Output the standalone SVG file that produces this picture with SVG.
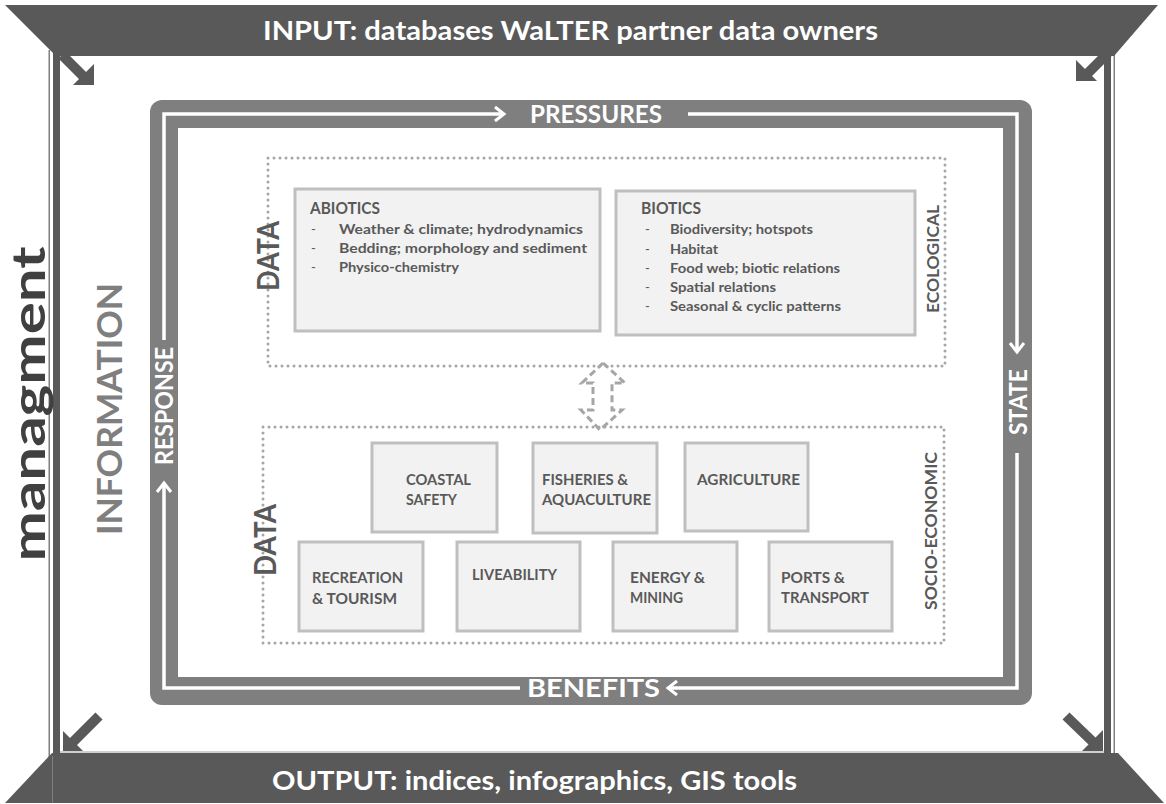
<svg xmlns="http://www.w3.org/2000/svg" width="1166" height="804" viewBox="0 0 1166 804">
<style>
  text { font-family: Lato, "Liberation Sans", sans-serif; font-weight: 700; }
  .banner { fill: #595959; }
  .bantxt { fill: #ffffff; font-size: 26px; }
  .band { fill: #7f7f7f; }
  .cyc { fill: none; stroke: #ffffff; stroke-width: 3.5; }
  .cyctxt { fill: #ffffff; font-size: 24px; }
  .dot { fill: none; stroke: #a6a6a6; stroke-width: 3; stroke-dasharray: 0 6; stroke-linecap: round; }
  .box { fill: #f2f2f2; stroke: #bfbfbf; stroke-width: 3; }
  .title { fill: #595959; font-size: 17px; }
  .item { fill: #595959; font-size: 13.5px; }
  .dash { fill: #595959; font-size: 13px; font-weight: 400; }
  .data { fill: #595959; font-size: 31px; }
  .side { fill: #595959; font-size: 17.5px; }
  .boxtxt { fill: #595959; font-size: 15.5px; }
  .corner { fill: #595959; }
</style>
<defs>
  <marker id="chev" markerUnits="userSpaceOnUse" markerWidth="14" markerHeight="16" refX="10" refY="7" orient="auto" overflow="visible">
    <path d="M1,0 L10,7 L1,14" fill="none" stroke="#ffffff" stroke-width="3"/>
  </marker>
</defs>

<!-- side frame lines -->
<g id="frame-lines">
  <rect x="48.5" y="50" width="1.5" height="753" fill="#7f7f7f"/>
  <rect x="53" y="50" width="7" height="703" fill="#595959"/>
  <rect x="1104" y="50" width="7" height="703" fill="#595959"/>
  <rect x="1113.5" y="50" width="1.5" height="703" fill="#7f7f7f"/>
</g>

<!-- banners -->
<g id="input-banner">
  <polygon class="banner" points="5,5 1158,5 1114,56 56,56"/>
  <text class="bantxt" x="263" y="40" textLength="615" lengthAdjust="spacingAndGlyphs">INPUT: databases WaLTER partner data owners</text>
</g>
<g id="output-banner">
  <polygon class="banner" points="52,753 1118,753 1164,803 5,803"/>
  <line x1="60" y1="752" x2="1104" y2="752" stroke="#bfbfbf" stroke-width="1.5"/>
  <line x1="52.5" y1="756" x2="52.5" y2="803" stroke="#7f7f7f" stroke-width="1"/>
  <text class="bantxt" x="272" y="790" textLength="525" lengthAdjust="spacingAndGlyphs">OUTPUT: indices, infographics, GIS tools</text>
</g>

<!-- corner arrows -->
<g id="corner-arrows">
  <g id="arrow-tl">
    <line x1="62" y1="55" x2="84" y2="77" stroke="#595959" stroke-width="10"/>
    <polygon class="corner" points="73,85 94,85 94,64"/>
  </g>
  <g id="arrow-tr">
    <line x1="1108" y1="53" x2="1087" y2="74" stroke="#595959" stroke-width="10"/>
    <polygon class="corner" points="1076,60 1076,81 1097,81"/>
  </g>
  <g id="arrow-bl">
    <line x1="99" y1="716" x2="73" y2="742" stroke="#595959" stroke-width="10"/>
    <polygon class="corner" points="63,731 63,751 83,751"/>
  </g>
  <g id="arrow-br">
    <line x1="1066" y1="716" x2="1093" y2="742" stroke="#595959" stroke-width="10"/>
    <polygon class="corner" points="1103,730 1103,751 1082,751"/>
  </g>
</g>

<!-- side labels -->
<g id="managment">
  <text transform="translate(45,404) rotate(-90)" text-anchor="middle" font-size="45" fill="#404040" textLength="315" lengthAdjust="spacingAndGlyphs">managment</text>
</g>
<g id="information">
  <text transform="translate(122,409) rotate(-90)" text-anchor="middle" font-size="35" fill="#7f7f7f" textLength="252" lengthAdjust="spacingAndGlyphs">INFORMATION</text>
</g>

<!-- DPSIR cycle band -->
<g id="cycle">
  <rect class="band" x="150" y="100" width="882" height="605" rx="12"/>
  <rect x="178" y="128" width="825" height="549" fill="#ffffff"/>
</g>
<g id="connectors">
  <path class="cyc" d="M164,340 V114 H504" marker-end="url(#chev)"/>
  <path class="cyc" d="M688,114 H1017 V352" marker-end="url(#chev)"/>
  <path class="cyc" d="M1017,453 V688 H668" marker-end="url(#chev)"/>
  <path class="cyc" d="M520,688 H164 V483" marker-end="url(#chev)"/>
  <polygon points="603,363 625,383 612,383 612,410 622,410 600,430 581,410 593,410 593,383 582,383" fill="#ffffff" stroke="#a6a6a6" stroke-width="3" stroke-dasharray="7 4"/>
</g>
<g id="cycle-labels">
  <text class="cyctxt" x="530" y="123" textLength="132" lengthAdjust="spacingAndGlyphs">PRESSURES</text>
  <text class="cyctxt" transform="translate(1027,402) rotate(-90)" text-anchor="middle" textLength="66" lengthAdjust="spacingAndGlyphs">STATE</text>
  <text class="cyctxt" x="527" y="697" textLength="133" lengthAdjust="spacingAndGlyphs">BENEFITS</text>
  <text class="cyctxt" transform="translate(173,406) rotate(-90)" text-anchor="middle" textLength="118" lengthAdjust="spacingAndGlyphs">RESPONSE</text>
</g>

<!-- Ecological data -->
<g id="ecological">
  <rect class="dot" x="268" y="158" width="677" height="208"/>
  <text class="data" transform="translate(279,256) rotate(-90)" text-anchor="middle" textLength="70" lengthAdjust="spacingAndGlyphs">DATA</text>
  <text class="side" transform="translate(939,259) rotate(-90)" text-anchor="middle" textLength="108" lengthAdjust="spacingAndGlyphs">ECOLOGICAL</text>
</g>
<g id="abiotics">
  <rect class="box" x="295" y="189" width="305" height="142"/>
  <text class="title" x="310" y="214" textLength="70" lengthAdjust="spacingAndGlyphs">ABIOTICS</text>
  <text class="dash" x="311" y="234">-</text>
  <text class="dash" x="311" y="253">-</text>
  <text class="dash" x="311" y="272">-</text>
  <text class="item" x="339" y="234" textLength="244" lengthAdjust="spacingAndGlyphs">Weather &amp; climate; hydrodynamics</text>
  <text class="item" x="339" y="253" textLength="248" lengthAdjust="spacingAndGlyphs">Bedding; morphology and sediment</text>
  <text class="item" x="339" y="272" textLength="120" lengthAdjust="spacingAndGlyphs">Physico-chemistry</text>
</g>
<g id="biotics">
  <rect class="box" x="616" y="191" width="299" height="144"/>
  <text class="title" x="641" y="214" textLength="60" lengthAdjust="spacingAndGlyphs">BIOTICS</text>
  <text class="dash" x="645" y="234">-</text>
  <text class="dash" x="645" y="254">-</text>
  <text class="dash" x="645" y="273">-</text>
  <text class="dash" x="645" y="292">-</text>
  <text class="dash" x="645" y="311">-</text>
  <text class="item" x="670" y="234" textLength="143" lengthAdjust="spacingAndGlyphs">Biodiversity; hotspots</text>
  <text class="item" x="670" y="254" textLength="48" lengthAdjust="spacingAndGlyphs">Habitat</text>
  <text class="item" x="670" y="273" textLength="170" lengthAdjust="spacingAndGlyphs">Food web; biotic relations</text>
  <text class="item" x="670" y="292" textLength="106" lengthAdjust="spacingAndGlyphs">Spatial relations</text>
  <text class="item" x="670" y="311" textLength="171" lengthAdjust="spacingAndGlyphs">Seasonal &amp; cyclic patterns</text>
</g>

<!-- Socio-economic data -->
<g id="socio-economic">
  <rect class="dot" x="263" y="427" width="681" height="216"/>
  <text class="data" transform="translate(276,540) rotate(-90)" text-anchor="middle" textLength="72" lengthAdjust="spacingAndGlyphs">DATA</text>
  <text class="side" transform="translate(937,531) rotate(-90)" text-anchor="middle" textLength="158" lengthAdjust="spacingAndGlyphs">SOCIO-ECONOMIC</text>
</g>
<g id="coastal-safety">
  <rect class="box" x="372" y="443" width="125" height="89"/>
  <text class="boxtxt" x="406" y="485" textLength="65" lengthAdjust="spacingAndGlyphs">COASTAL</text>
  <text class="boxtxt" x="406" y="505" textLength="51" lengthAdjust="spacingAndGlyphs">SAFETY</text>
</g>
<g id="fisheries">
  <rect class="box" x="533" y="443" width="124" height="90"/>
  <text class="boxtxt" x="542" y="485" textLength="86" lengthAdjust="spacingAndGlyphs">FISHERIES &amp;</text>
  <text class="boxtxt" x="542" y="505" textLength="109" lengthAdjust="spacingAndGlyphs">AQUACULTURE</text>
</g>
<g id="agriculture">
  <rect class="box" x="685" y="443" width="123" height="88"/>
  <text class="boxtxt" x="697" y="485" textLength="103" lengthAdjust="spacingAndGlyphs">AGRICULTURE</text>
</g>
<g id="recreation">
  <rect class="box" x="299" y="542" width="124" height="89"/>
  <text class="boxtxt" x="312" y="583" textLength="91" lengthAdjust="spacingAndGlyphs">RECREATION</text>
  <text class="boxtxt" x="312" y="604" textLength="85" lengthAdjust="spacingAndGlyphs">&amp; TOURISM</text>
</g>
<g id="liveability">
  <rect class="box" x="457" y="542" width="123" height="89"/>
  <text class="boxtxt" x="472" y="580" textLength="85" lengthAdjust="spacingAndGlyphs">LIVEABILITY</text>
</g>
<g id="energy">
  <rect class="box" x="613" y="542" width="124" height="89"/>
  <text class="boxtxt" x="630" y="583" textLength="75" lengthAdjust="spacingAndGlyphs">ENERGY &amp;</text>
  <text class="boxtxt" x="630" y="603" textLength="53" lengthAdjust="spacingAndGlyphs">MINING</text>
</g>
<g id="ports">
  <rect class="box" x="769" y="542" width="123" height="89"/>
  <text class="boxtxt" x="781" y="583" textLength="64" lengthAdjust="spacingAndGlyphs">PORTS &amp;</text>
  <text class="boxtxt" x="781" y="603" textLength="88" lengthAdjust="spacingAndGlyphs">TRANSPORT</text>
</g>
</svg>
